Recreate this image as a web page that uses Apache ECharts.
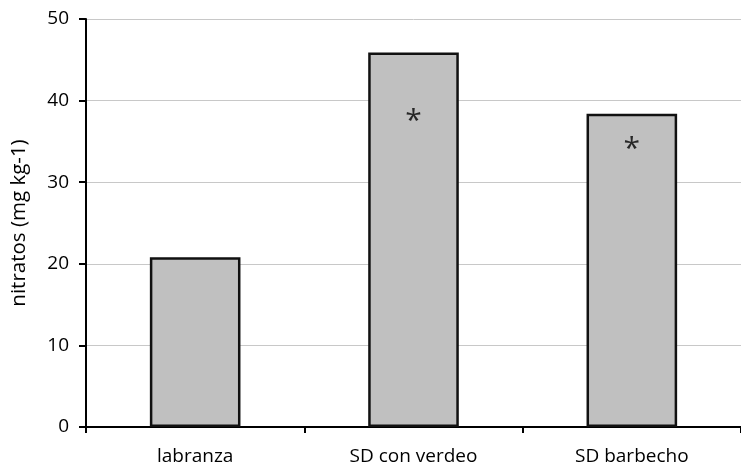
<!DOCTYPE html>
<html><head><meta charset="utf-8">
<script src="https://cdn.jsdelivr.net/npm/echarts@6/dist/echarts.min.js"></script>
<style>html,body{margin:0;padding:0;background:#fff}#c{width:741px;height:469px}</style>
</head><body><div id="c"></div>
<script>
const categories = ['labranza', 'SD con verdeo', 'SD barbecho'];
const nitratos = [20.8, 45.9, 38.4];
const asteriskY = [null, 38.2, 34.8];
const yTicks = [0, 10, 20, 30, 40, 50];
const yName = 'nitratos (mg kg-1)';

const font = 'Open Sans';
const chart = echarts.init(document.getElementById('c'), null, {renderer: 'canvas'});
chart.setOption({
  animation: false,
  grid: {left: 86, right: -3, top: 19, bottom: 42, containLabel: false},
  xAxis: {
    type: 'category', data: categories,
    axisLine: {lineStyle: {color: '#000', width: 2}},
    axisTick: {show: true, length: 6, lineStyle: {color: '#000', width: 2}, alignWithLabel: false},
    axisLabel: {color: '#000', fontFamily: font, fontSize: 19, margin: 20}
  },
  yAxis: {
    type: 'value', min: yTicks[0], max: yTicks[yTicks.length - 1], interval: 10,
    name: yName, nameLocation: 'middle', nameGap: 56, nameRotate: 90,
    nameTextStyle: {color: '#000', fontFamily: font, fontSize: 20.5},
    axisLine: {show: true, lineStyle: {color: '#000', width: 2}},
    axisTick: {show: true, length: 7, lineStyle: {color: '#000', width: 2}},
    axisLabel: {color: '#000', fontFamily: font, fontSize: 19, margin: 17},
    splitLine: {lineStyle: {color: '#c8c8c8', width: 1}}
  },
  series: [{
    type: 'bar', data: nitratos, barWidth: '41.5%',
    itemStyle: {color: '#c0c0c0', borderColor: '#111', borderWidth: 2.5}
  }, {
    type: 'scatter', data: asteriskY, symbolSize: 0, silent: true,
    label: {show: true, formatter: '*', position: 'inside', offset: [0, 6], color: '#000', fontFamily: font, fontSize: 30}
  }]
});
</script></body></html>
